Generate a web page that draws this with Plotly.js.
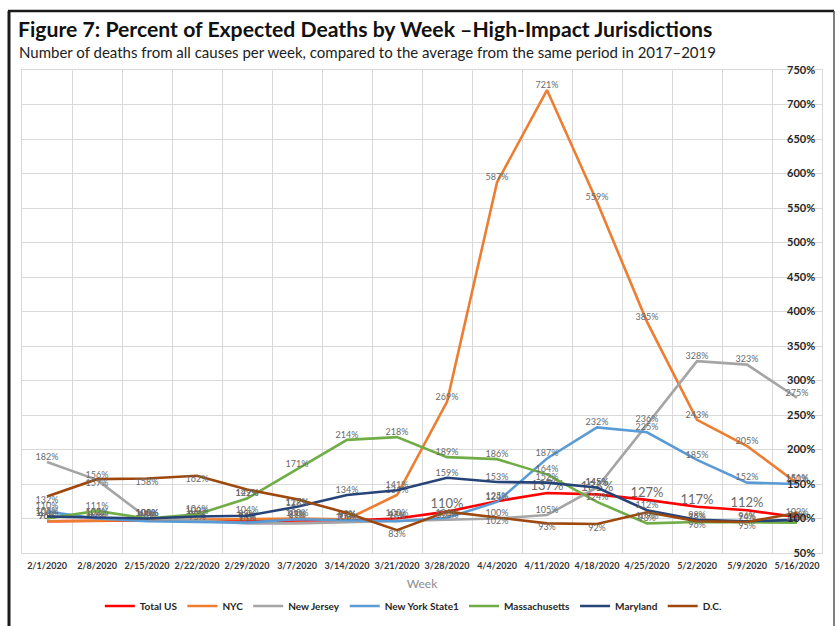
<!DOCTYPE html>
<html>
<head>
<meta charset="utf-8">
<script src="https://cdn.plot.ly/plotly-3.0.1.min.js"></script>
<style>
html,body{margin:0;padding:0;background:#fff;}
#chart{width:835px;height:626px;}
</style>
</head>
<body>
<div id="chart"></div>
<script>
const weeks = ["2/1/2020","2/8/2020","2/15/2020","2/22/2020","2/29/2020","3/7/2020","3/14/2020","3/21/2020","3/28/2020","4/4/2020","4/11/2020","4/18/2020","4/25/2020","5/2/2020","5/9/2020","5/16/2020"];
const totalUS       = [96, 97, 97, 97, 96, 97, 97, 100, 110, 125, 137, 135, 127, 117, 112, 102];
const nyc           = [96, 97, 98, 99, 99, 100, 99, 134, 269, 587, 721, 559, 385, 243, 205, 151];
const newJersey     = [182, 156, 101, 97, 93, 93, 95, 97, 99, 100, 105, 145, 236, 328, 323, 275];
const newYorkState  = [110, 100, 96, 95, 94, 99, 97, 96, 101, 124, 187, 232, 225, 185, 152, 150];
const massachusetts = [100, 111, 100, 106, 129, 171, 214, 218, 189, 186, 164, 124, 93, 95, 94, 94];
const maryland      = [103, 102, 100, 103, 104, 117, 134, 141, 159, 153, 152, 145, 112, 98, 96, 98];
const dc            = [132, 157, 158, 162, 142, 128, 108, 83, 110, 102, 93, 92, 109, 96, 95, 108];

const seriesNames = ["Total US","NYC","New Jersey","New York State1","Massachusetts","Maryland","D.C."];
const seriesData = [totalUS, nyc, newJersey, newYorkState, massachusetts, maryland, dc];
const colors = ["#FF0000","#ED7D31","#A5A5A5","#5B9BD5","#70AD47","#264478","#9E480E"];
const labelPos = ["top center","top center","top center","top center","top center","top center","bottom center"];

const usLabelSizes = totalUS.map((v,i) => (i >= 8 && i !== 9 && i !== 15) ? 13 : 9);
const FONT = "Lato, 'Liberation Sans', sans-serif";

const traces = seriesData.map((vals, k) => ({
  type: "scatter",
  mode: "lines+text",
  name: seriesNames[k],
  x: weeks,
  y: vals,
  text: vals.map(v => v + "%"),
  textposition: labelPos[k],
  textfont: {family: FONT, size: k === 0 ? usLabelSizes : 9, color: "#6a6a6a"},
  line: {color: colors[k], width: 2.6},
  cliponaxis: false,
  hoverinfo: "skip"
}));

const layout = {
  width: 835, height: 626,
  margin: {l: 22, r: 13, t: 70, b: 73},
  paper_bgcolor: "#ffffff",
  plot_bgcolor: "#ffffff",
  showlegend: true,
  font: {family: FONT, color: "#404040"},
  title: {
    text: "<b>Figure 7: Percent of Expected Deaths by Week –High-Impact Jurisdictions</b>",
    font: {family: FONT, size: 21.2, color: "#111111"},
    x: 18/835, xanchor: "left", xref: "container",
    y: 1 - 30/626, yanchor: "middle", yref: "container"
  },
  annotations: [{
    text: "Number of deaths from all causes per week, compared to the average from the same period in 2017–2019",
    xref: "paper", yref: "paper",
    x: (17 - 22)/800, xanchor: "left",
    y: (553 - 52)/483, yanchor: "middle",
    showarrow: false,
    font: {family: FONT, size: 15, color: "#222222"}
  }],
  xaxis: {
    type: "category",
    range: [-0.5, 15.5],
    tickson: "boundaries",
    ticks: "",
    tickangle: 0,
    ticklabelstandoff: 4,
    showgrid: true, gridcolor: "#d9d9d9", gridwidth: 1,
    showline: true, linecolor: "#d9d9d9", mirror: true,
    zeroline: false,
    tickfont: {family: FONT, size: 9, color: "#333333", weight: "bold"},
    title: {text: "Week", font: {family: FONT, size: 12, color: "#8c8c8c"}, standoff: 10},
    fixedrange: true
  },
  yaxis: {
    range: [50, 750],
    dtick: 50,
    tick0: 50,
    ticksuffix: "%",
    side: "right",
    ticklabelposition: "inside",
    ticklabeloverflow: "allow",
    ticklabelstandoff: 6,
    ticks: "",
    showgrid: true, gridcolor: "#d9d9d9", gridwidth: 1,
    showline: true, linecolor: "#d9d9d9", mirror: true,
    zeroline: false,
    tickfont: {family: FONT, size: 11, color: "#262626", weight: "bold"},
    fixedrange: true
  },
  legend: {
    orientation: "h",
    x: 0.495, xanchor: "center", xref: "container",
    y: 1 - 606/626, yanchor: "middle", yref: "container",
    font: {family: FONT, size: 10, color: "#262626", weight: "bold"},
    itemwidth: 30,
    tracegroupgap: 0
  },
  shapes: [
    {type: "line", xref: "paper", yref: "paper", x0: (9-22)/800, x1: (9-22)/800, y0: (553-11)/483, y1: (553-700)/483, line: {color: "#1a1a1a", width: 3}},
    {type: "line", xref: "paper", yref: "paper", x0: (8-22)/800, x1: (834-22)/800, y0: (553-11)/483, y1: (553-11)/483, line: {color: "#1a1a1a", width: 2.5}},
    {type: "line", xref: "paper", yref: "paper", x0: (834-22)/800, x1: (834-22)/800, y0: (553-11)/483, y1: (553-700)/483, line: {color: "#555555", width: 1.5}}
  ],
  hovermode: false
};

Plotly.newPlot("chart", traces, layout, {displayModeBar: false, staticPlot: true});
</script>
</body>
</html>
